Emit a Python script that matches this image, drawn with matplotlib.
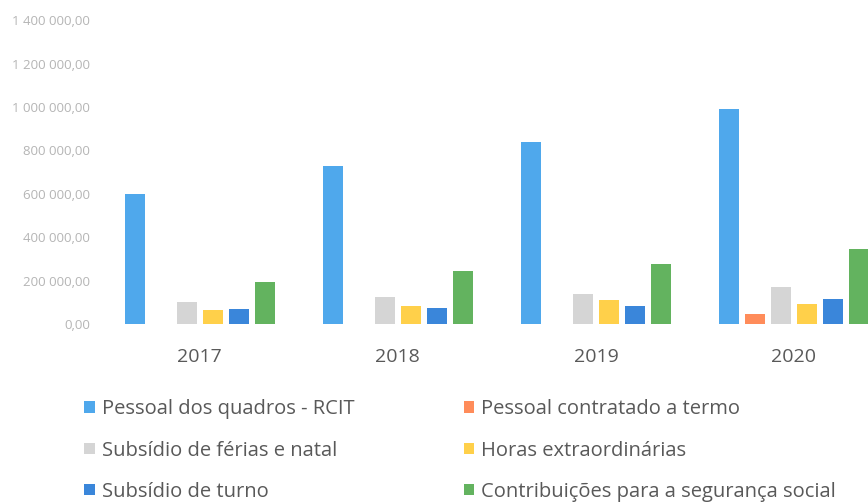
import matplotlib.pyplot as plt
import numpy as np

# Despesas com pessoal por ano (EUR)
anos = ['2017', '2018', '2019', '2020']
series = ['Pessoal dos quadros - RCIT', 'Pessoal contratado a termo',
          'Subsídio de férias e natal', 'Horas extraordinárias',
          'Subsídio de turno', 'Contribuições para a segurança social']
quadros = [600000, 729000, 840000, 992000]
contratado = [0, 0, 0, 46000]
ferias_natal = [101000, 125000, 138000, 170000]
horas_extra = [65000, 83000, 111000, 92000]
turno = [69000, 74000, 83000, 115000]
contribuicoes = [194000, 245000, 277000, 346000]

valores = [quadros, contratado, ferias_natal, horas_extra, turno, contribuicoes]
cores = ['#4FA8EC', '#FF8C5A', '#D5D5D5', '#FFD04A', '#3A86DA', '#63B35F']

plt.rcParams['font.family'] = ['Open Sans', 'DejaVu Sans']

fig = plt.figure(figsize=(8.68, 5.04), dpi=100)
ax = fig.add_axes([0.115, 0.357, 0.885, 0.603])

x = np.arange(len(anos))
width = 0.1
step = 0.1316
for i, (nome, vals, cor) in enumerate(zip(series, valores, cores)):
    offs = (i - 2.5) * step
    ax.bar(x + offs, vals, width, color=cor, label=nome)

ax.set_ylim(0, 1400000)
ax.set_xlim(-0.505, 3.374)
yt = np.arange(0, 1400001, 200000)
ax.set_yticks(yt)
ax.set_yticklabels([f'{v:,.2f}'.replace(',', ' ').replace('.', ',') for v in yt],
                   fontsize=9.5, color='#B5B5B5')
ax.set_xticks(x)
ax.set_xticklabels(anos, fontsize=14, color='#595959')
ax.tick_params(axis='both', length=0)
ax.tick_params(axis='x', pad=17)
ax.tick_params(axis='y', pad=7)
for s in ax.spines.values():
    s.set_visible(False)

handles, labels = ax.get_legend_handles_labels()
order = [0, 2, 4, 1, 3, 5]
fig.legend([handles[k] for k in order], [labels[k] for k in order],
           loc='upper left', bbox_to_anchor=(0.088, 0.224), ncol=2,
           frameon=False, fontsize=14.5, labelcolor='#595959',
           handlelength=0.5, handleheight=0.5, handletextpad=0.35,
           columnspacing=5.45, labelspacing=1.06, borderaxespad=0)

fig.savefig('out.png', dpi=100)
